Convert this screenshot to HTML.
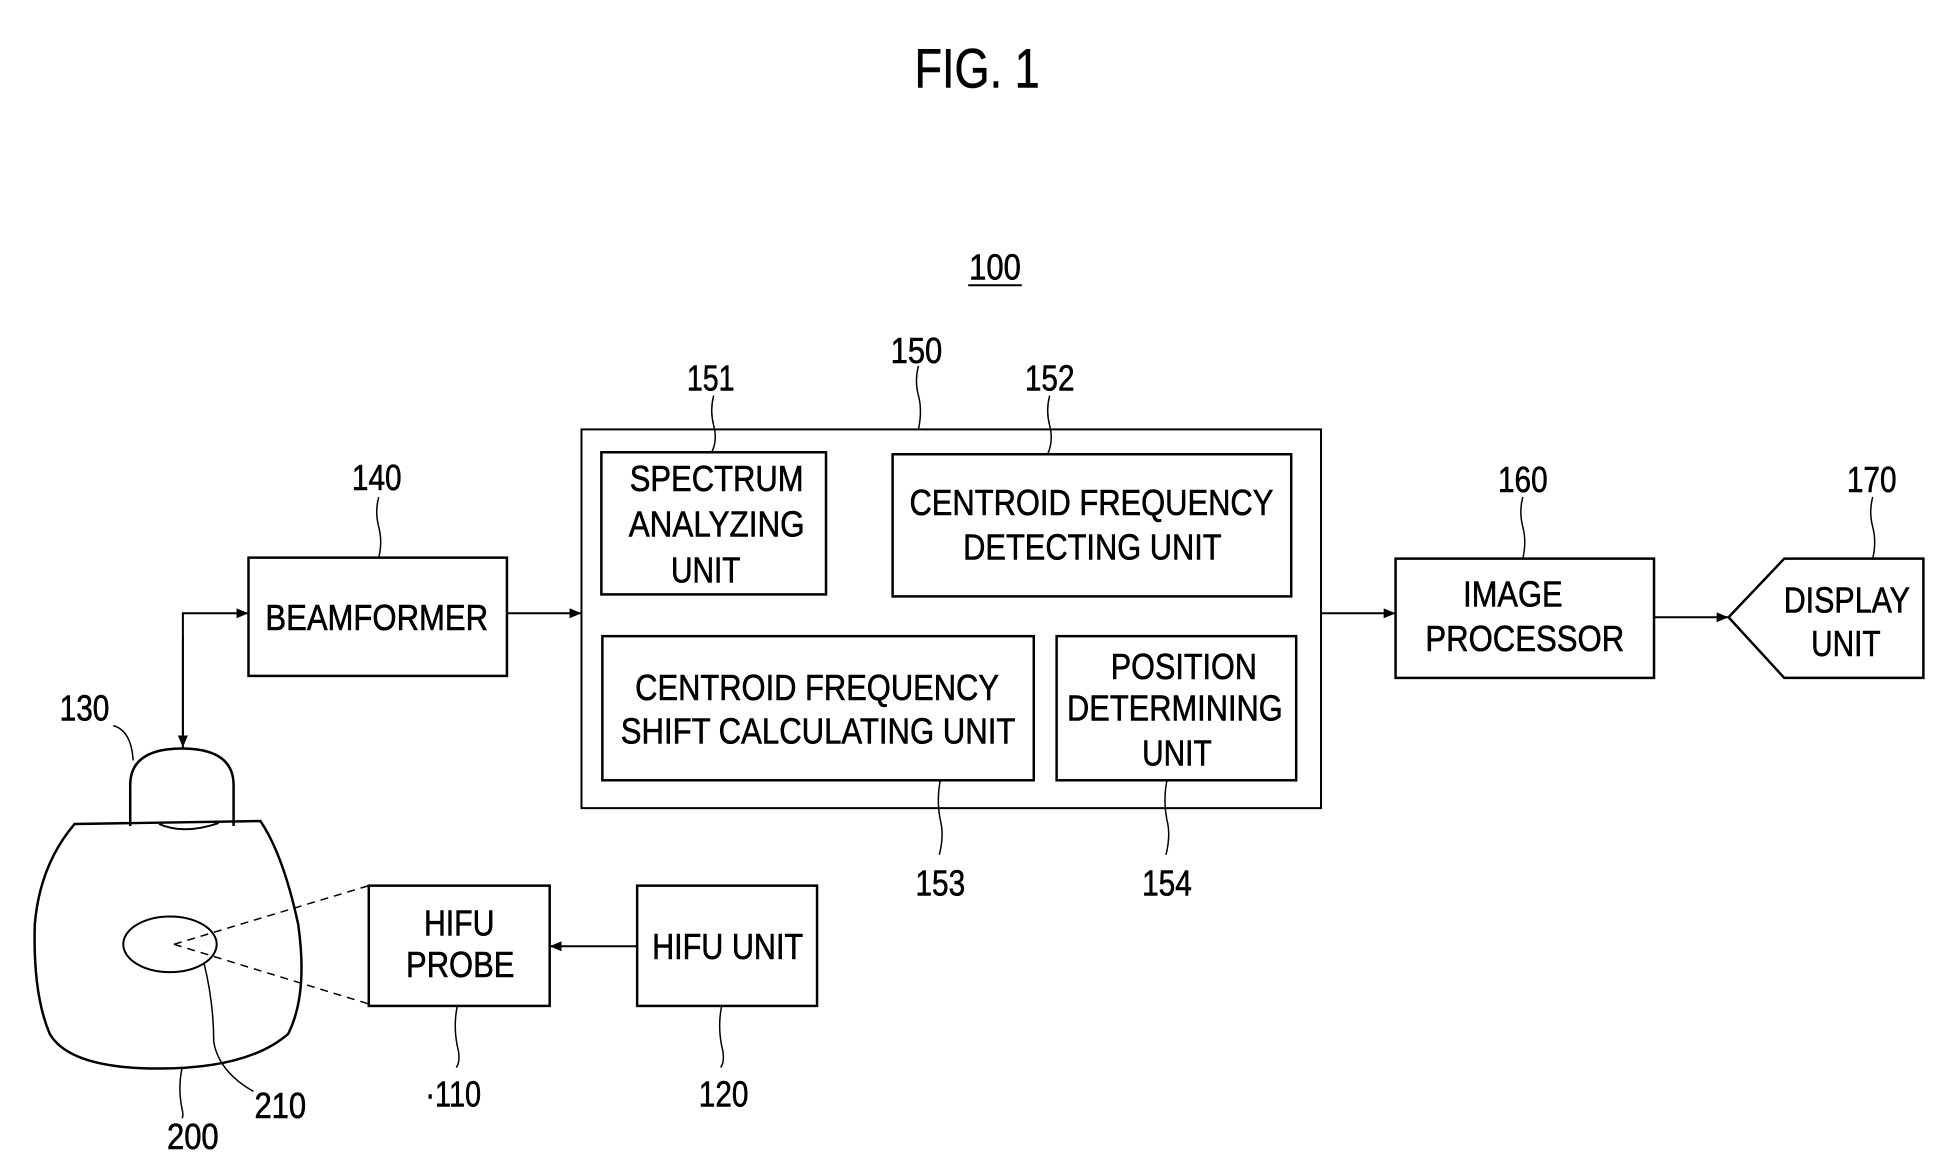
<!DOCTYPE html>
<html><head><meta charset="utf-8"><style>
html,body{margin:0;padding:0;background:#fff;}
svg{display:block;}
text{font-family:"Liberation Sans",sans-serif;fill:#000;stroke:#000;stroke-width:0.6;}
</style></head><body>
<svg width="1949" height="1169" viewBox="0 0 1949 1169" xmlns="http://www.w3.org/2000/svg">
<defs>
<marker id="ah" markerWidth="12" markerHeight="10" refX="12" refY="5" orient="auto" markerUnits="userSpaceOnUse">
<path d="M0,0 L12,5 L0,10 Z" fill="#000"/>
</marker>
</defs>
<g transform="scale(0.994)">
<g fill="none" stroke="#000" stroke-width="2.5">
<rect x="585" y="432" width="744" height="381" stroke-width="2"/>
<rect x="605" y="455" width="226" height="143"/>
<rect x="898" y="457" width="401" height="143"/>
<rect x="606" y="640" width="434" height="145"/>
<rect x="1063" y="640" width="241" height="145"/>
<rect x="250" y="561" width="260" height="119"/>
<rect x="1404" y="562" width="260" height="120"/>
<path d="M1739,621 L1795,562 L1935,562 L1935,682 L1795,682 Z"/>
<rect x="371" y="891" width="182" height="121"/>
<rect x="641" y="891" width="181" height="121"/>
<line x1="510" y1="617" x2="585" y2="617" stroke-width="2" marker-end="url(#ah)"/>
<line x1="1329" y1="617" x2="1404" y2="617" stroke-width="2" marker-end="url(#ah)"/>
<line x1="1664" y1="621" x2="1739" y2="621" stroke-width="2" marker-end="url(#ah)"/>
<line x1="641" y1="952" x2="553" y2="952" stroke-width="2" marker-end="url(#ah)"/>
<polyline points="184,750 184,617 250,617" stroke-width="2" marker-end="url(#ah)"/>
<line x1="184" y1="640" x2="184" y2="752" stroke-width="2" marker-end="url(#ah)"/>
<path d="M131,831 L131,790 Q131,753 183,753 Q235,753 235,790 L235,831"/>
<path d="M75,829 L262,826 Q285,860 300,930 Q310,1000 290,1040 Q250,1075 160,1075 Q70,1075 50,1040 Q33,1000 35,930 Q40,870 75,829 Z"/>
<path d="M160,829 Q185,840 220,828" stroke-width="2"/>
<ellipse cx="171" cy="950" rx="47" ry="28" stroke-width="2"/>
<line x1="175" y1="950" x2="371" y2="891" stroke-width="1.5" stroke-dasharray="8,6"/>
<line x1="175" y1="950" x2="371" y2="1010" stroke-width="1.5" stroke-dasharray="8,6"/>
<g stroke-width="1.5">
<path d="M924,368 q-4,15 0,30 q4,15 0,34"/>
<path d="M718,398 q-4,15 0,30 q4,15 -2,27"/>
<path d="M1056,398 q-4,15 0,30 q4,15 -2,29"/>
<path d="M946,785 q-4,20 0,40 q4,15 -1,35"/>
<path d="M1174,785 q-4,20 0,40 q4,15 -1,35"/>
<path d="M381,500 q-4,15 0,30 q4,15 0,31"/>
<path d="M1532,500 q-4,15 0,30 q4,15 0,32"/>
<path d="M1884,500 q-4,15 0,30 q4,15 0,32"/>
<path d="M460,1012 q-4,20 0,40 q4,15 -1,22"/>
<path d="M726,1012 q-4,20 0,40 q4,15 -1,22"/>
<path d="M114,730 q18,5 20,35"/>
<path d="M183,1075 q-4,20 0,40 q2,8 0,10"/>
<path d="M205,968 q10,40 10,80 q5,30 40,50"/>
</g>
<line x1="974" y1="287" x2="1028" y2="287" stroke-width="2"/>
</g>
<g font-size="36" text-anchor="middle">
<text x="983" y="88" font-size="56" textLength="126" lengthAdjust="spacingAndGlyphs">FIG. 1</text>
<text x="1001" y="281" textLength="52" lengthAdjust="spacingAndGlyphs">100</text>
<text x="922" y="365" textLength="52" lengthAdjust="spacingAndGlyphs">150</text>
<text x="715" y="393" textLength="48" lengthAdjust="spacingAndGlyphs">151</text>
<text x="1056" y="393" textLength="50" lengthAdjust="spacingAndGlyphs">152</text>
<text x="946" y="901" textLength="50" lengthAdjust="spacingAndGlyphs">153</text>
<text x="1174" y="901" textLength="50" lengthAdjust="spacingAndGlyphs">154</text>
<text x="379" y="493" textLength="50" lengthAdjust="spacingAndGlyphs">140</text>
<text x="1532" y="495" textLength="50" lengthAdjust="spacingAndGlyphs">160</text>
<text x="1883" y="495" textLength="50" lengthAdjust="spacingAndGlyphs">170</text>
<text x="85" y="725" textLength="50" lengthAdjust="spacingAndGlyphs">130</text>
<text x="194" y="1156" textLength="52" lengthAdjust="spacingAndGlyphs">200</text>
<text x="282" y="1125" textLength="52" lengthAdjust="spacingAndGlyphs">210</text>
<text x="456" y="1113" textLength="56" lengthAdjust="spacingAndGlyphs">·110</text>
<text x="728" y="1113" textLength="50" lengthAdjust="spacingAndGlyphs">120</text>
<text x="379" y="634" textLength="224" lengthAdjust="spacingAndGlyphs">BEAMFORMER</text>
<text x="721" y="494" textLength="175" lengthAdjust="spacingAndGlyphs">SPECTRUM</text>
<text x="721" y="540" textLength="177" lengthAdjust="spacingAndGlyphs">ANALYZING</text>
<text x="710" y="586" textLength="70" lengthAdjust="spacingAndGlyphs">UNIT</text>
<text x="1098" y="518" textLength="366" lengthAdjust="spacingAndGlyphs">CENTROID FREQUENCY</text>
<text x="1099" y="563" textLength="260" lengthAdjust="spacingAndGlyphs">DETECTING UNIT</text>
<text x="822" y="704" textLength="366" lengthAdjust="spacingAndGlyphs">CENTROID FREQUENCY</text>
<text x="823" y="748" textLength="397" lengthAdjust="spacingAndGlyphs">SHIFT CALCULATING UNIT</text>
<text x="1191" y="683" textLength="147" lengthAdjust="spacingAndGlyphs">POSITION</text>
<text x="1182" y="725" textLength="217" lengthAdjust="spacingAndGlyphs">DETERMINING</text>
<text x="1184" y="770" textLength="70" lengthAdjust="spacingAndGlyphs">UNIT</text>
<text x="1522" y="610" textLength="100" lengthAdjust="spacingAndGlyphs">IMAGE</text>
<text x="1534" y="655" textLength="200" lengthAdjust="spacingAndGlyphs">PROCESSOR</text>
<text x="1858" y="616" textLength="127" lengthAdjust="spacingAndGlyphs">DISPLAY</text>
<text x="1857" y="660" textLength="70" lengthAdjust="spacingAndGlyphs">UNIT</text>
<text x="462" y="941" textLength="71" lengthAdjust="spacingAndGlyphs">HIFU</text>
<text x="463" y="983" textLength="109" lengthAdjust="spacingAndGlyphs">PROBE</text>
<text x="732" y="965" textLength="152" lengthAdjust="spacingAndGlyphs">HIFU UNIT</text>
</g>
</g>
</svg>
</body></html>
